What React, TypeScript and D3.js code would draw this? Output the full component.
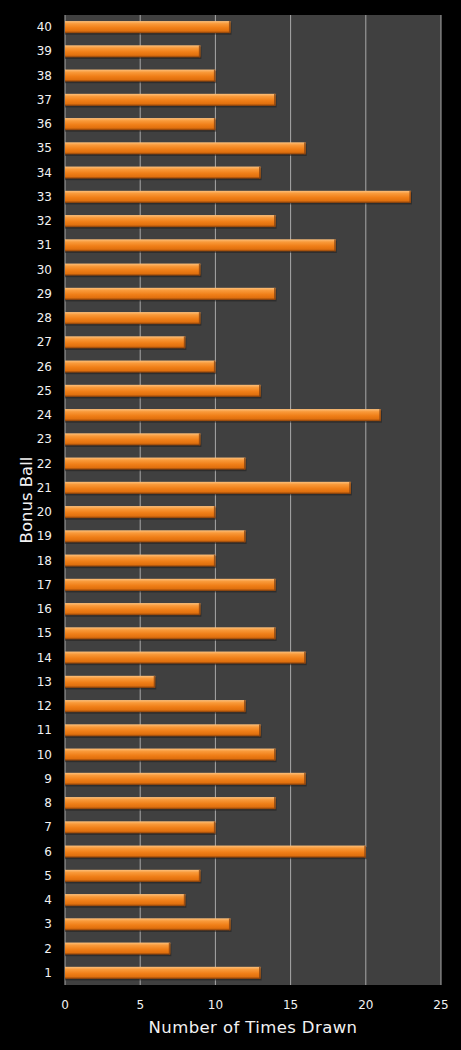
import React from "react";
import * as d3 from "d3";

const balls = d3.range(1, 41).map(String);
const timesDrawn = [
  13, 7, 11, 8, 9, 20, 10, 14, 16, 14,
  13, 12, 6, 16, 14, 9, 14, 10, 12, 10,
  19, 12, 9, 21, 13, 10, 8, 9, 14, 9,
  18, 14, 23, 13, 16, 10, 14, 10, 9, 11,
];
const xTicks = [0, 5, 10, 15, 20, 25];

const W = 461;
const H = 1050;
const margin = { top: 15, right: 20, bottom: 65, left: 65 };

export default function App() {
  const innerW = W - margin.left - margin.right;
  const innerH = H - margin.top - margin.bottom;

  const x = d3.scaleLinear().domain([0, 25]).range([0, innerW]);
  const y = d3
    .scaleBand()
    .domain([...balls].reverse())
    .range([0, innerH])
    .paddingInner(0.5)
    .paddingOuter(0.25);

  const font = "'DejaVu Sans', Verdana, sans-serif";

  return (
    <svg
      width={W}
      height={H}
      style={{ position: "absolute", left: 0, top: 0, display: "block", background: "#000" }}
    >
      <defs>
        <linearGradient id="barGrad" x1="0" y1="0" x2="0" y2="1">
          <stop offset="0%" stopColor="#fcc07c" />
          <stop offset="22%" stopColor="#f99a3a" />
          <stop offset="55%" stopColor="#f07f18" />
          <stop offset="82%" stopColor="#e0700e" />
          <stop offset="100%" stopColor="#7e3c0c" />
        </linearGradient>
      </defs>
      <rect width={W} height={H} fill="#000" />
      <g transform={`translate(${margin.left},${margin.top})`}>
        <rect width={innerW} height={innerH} fill="#404040" />

        {/* gridlines */}
        {xTicks.slice(1).map((t) => (
          <line key={t} x1={x(t)} x2={x(t)} y1={0} y2={innerH} stroke="#a8a8a8" strokeWidth={1} />
        ))}
        <line x1={0} x2={0} y1={0} y2={innerH} stroke="#a8a8a8" strokeWidth={1} />

        {/* bars */}
        {balls.map((b, i) => {
          const by = y(b) ?? 0;
          const bw = x(timesDrawn[i]);
          const bh = y.bandwidth();
          return (
            <g key={b}>
              <rect x={0} y={by + 1.5} width={bw + 1} height={bh} fill="#1a1a1a" opacity={0.5} />
              <rect x={0} y={by} width={bw} height={bh} fill="url(#barGrad)" />
              <rect x={bw - 1.5} y={by} width={1.5} height={bh} fill="#8a4410" opacity={0.8} />
            </g>
          );
        })}

        {/* y tick labels */}
        {balls.map((b) => (
          <text
            key={b}
            x={-13}
            y={(y(b) ?? 0) + y.bandwidth() / 2}
            textAnchor="end"
            dominantBaseline="central"
            fill="#f2f2f2"
            fontSize={12}
            fontFamily={font}
          >
            {b}
          </text>
        ))}

        {/* x tick labels */}
        {xTicks.map((t) => (
          <text
            key={t}
            x={x(t)}
            y={innerH + 20}
            textAnchor="middle"
            dominantBaseline="central"
            fill="#f2f2f2"
            fontSize={12}
            fontFamily={font}
          >
            {t}
          </text>
        ))}

        {/* axis titles */}
        <text
          x={innerW / 2}
          y={innerH + 42}
          textAnchor="middle"
          dominantBaseline="central"
          fill="#f2f2f2"
          fontSize={16.5}
          letterSpacing={0.4}
          fontFamily={font}
        >
          Number of Times Drawn
        </text>
        <text
          transform={`translate(${-39},${innerH / 2}) rotate(-90)`}
          textAnchor="middle"
          dominantBaseline="central"
          fill="#f2f2f2"
          fontSize={16.5}
          fontFamily={font}
        >
          Bonus Ball
        </text>
      </g>
    </svg>
  );
}
